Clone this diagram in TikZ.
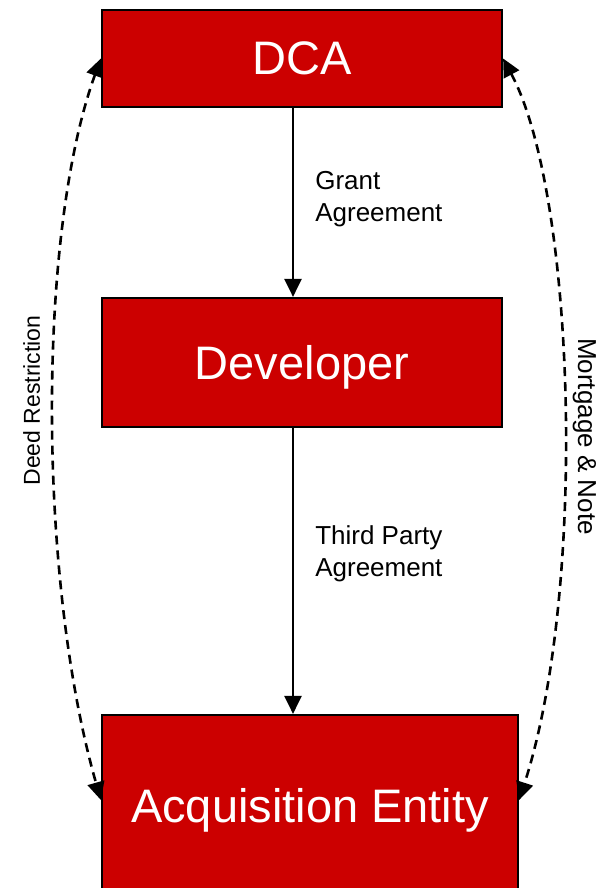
\documentclass[tikz,border=0pt]{standalone}
\usepackage{fontspec}
\setmainfont{Liberation Sans}
\usetikzlibrary{arrows.meta}
\definecolor{boxred}{HTML}{CC0000}
\tikzstyle{block} = [rectangle, draw=black, line width=2.2pt, fill=boxred,
    text=white, font=\fontsize{47}{56}\selectfont, text depth=0pt, inner sep=0pt]
\tikzstyle{line} = [draw, line width=2.6pt, -{Triangle[length=18pt,width=17pt]}]
\tikzstyle{link} = [line, dash pattern=on 9pt off 6pt,
    {Triangle[length=18pt,width=17pt]}-{Triangle[length=18pt,width=17pt]}]
\tikzstyle{lab} = [font=\fontsize{26}{32}\selectfont, align=left, inner sep=0pt]
\tikzstyle{sidelab} = [font=\fontsize{23}{28}\selectfont, inner sep=12pt, anchor=south]

\begin{document}
\begin{tikzpicture}
    \useasboundingbox (0,0) rectangle (606pt,-888pt);
    \clip (0,0) rectangle (606pt,-888pt);
    % Place nodes
    \node [block, minimum width=400pt, minimum height=97pt] (dca) at (302pt,-58.5pt) {DCA};
    \node [block, below of=dca, node distance=304pt, minimum width=400pt, minimum height=129pt] (dev) {Developer};
    \node [block, below of=dev, node distance=442.5pt, xshift=8pt, minimum width=416pt, minimum height=180pt] (acq) {Acquisition Entity};
    % Draw edges
    \path [line] ([xshift=-9pt]dca.south) -- node [lab, pos=.48, right=21pt] {Grant\\Agreement} ([xshift=-9pt]dev.north);
    \path [line] ([xshift=-9pt]dev.south) -- node [lab, pos=.44, right=21pt] {Third Party\\Agreement} ([xshift=-17pt]acq.north);
    \path [link] (dca.west) .. controls +(-64pt,-176pt) and +(-63pt,220pt) .. node [sidelab, pos=.485, rotate=90] {Deed Restriction} ([yshift=5pt]acq.west);
    \path [link] (dca.east) .. controls +(73pt,-137pt) and +(68pt,209pt) .. node [sidelab, pos=.54, rotate=-90, inner sep=7pt, font=\fontsize{26}{32}\selectfont] {Mortgage \& Note} ([yshift=5pt]acq.east);
\end{tikzpicture}
\end{document}
